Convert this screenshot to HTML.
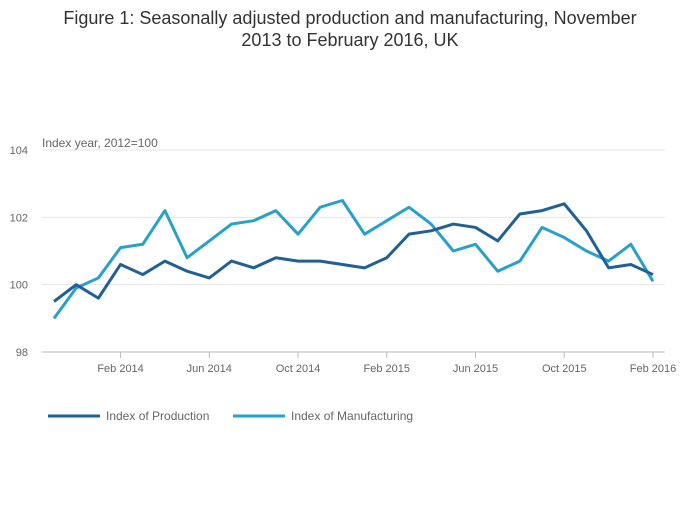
<!DOCTYPE html>
<html><head><meta charset="utf-8"><style>
body{margin:0;background:#fff;font-family:"Liberation Sans",sans-serif;}
</style></head><body>
<svg id="c" width="700" height="502" xmlns="http://www.w3.org/2000/svg">
<text x="350" y="24" text-anchor="middle" font-size="18" fill="#333">Figure 1: Seasonally adjusted production and manufacturing, November</text>
<text x="350" y="46" text-anchor="middle" font-size="18" fill="#333">2013 to February 2016, UK</text>
<text x="42" y="147" font-size="12" fill="#666">Index year, 2012=100</text>
<g id="grid"></g><g id="lines"></g>
<g>
<line x1="48" y1="416" x2="100" y2="416" stroke="#206095" stroke-width="3"/>
<text x="106" y="420" font-size="12" fill="#666">Index of Production</text>
<line x1="233" y1="416" x2="285" y2="416" stroke="#27a0cc" stroke-width="3"/>
<text x="291" y="420" font-size="12" fill="#666">Index of Manufacturing</text>
</g>
</svg>
<script>
const yTicks=[98,100,102,104];
const xTickLabels=["Feb 2014","Jun 2014","Oct 2014","Feb 2015","Jun 2015","Oct 2015","Feb 2016"];
const xTickIndex=[3,7,11,15,19,23,27];
const production=[99.5,100.0,99.6,100.6,100.3,100.7,100.4,100.2,100.7,100.5,100.8,100.7,100.7,100.6,100.5,100.8,101.5,101.6,101.8,101.7,101.3,102.1,102.2,102.4,101.6,100.5,100.6,100.3];
const manufacturing=[99.0,99.9,100.2,101.1,101.2,102.2,100.8,101.3,101.8,101.9,102.2,101.5,102.3,102.5,101.5,101.9,102.3,101.8,101.0,101.2,100.4,100.7,101.7,101.4,101.0,100.7,101.2,100.1];
const NS="http://www.w3.org/2000/svg";
const x=i=>54+i*(653-54)/27;
const y=v=>352-(v-98)*(352-150)/6;
const grid=document.getElementById('grid'),lines=document.getElementById('lines');
yTicks.forEach(t=>{
 const l=document.createElementNS(NS,'line');
 l.setAttribute('x1',42);l.setAttribute('x2',665);l.setAttribute('y1',y(t));l.setAttribute('y2',y(t));
 l.setAttribute('stroke',t===98?'#bbb':'#e6e6e6');
 
 
 grid.appendChild(l);
 const tx=document.createElementNS(NS,'text');
 tx.setAttribute('x',28);tx.setAttribute('y',y(t)+4);tx.setAttribute('font-size','11');tx.setAttribute('fill','#666');tx.setAttribute('text-anchor','end');
 tx.textContent=t;
 
 
 grid.appendChild(tx);
});
xTickIndex.forEach((idx,k)=>{
 const l=document.createElementNS(NS,'line');
 l.setAttribute('x1',x(idx));l.setAttribute('x2',x(idx));l.setAttribute('y1',352);l.setAttribute('y2',358);l.setAttribute('stroke','#bbb');
 
 
 grid.appendChild(l);
 const tx=document.createElementNS(NS,'text');
 tx.setAttribute('x',x(idx));tx.setAttribute('y',372);tx.setAttribute('font-size','11');tx.setAttribute('fill','#666');tx.setAttribute('text-anchor','middle');
 tx.textContent=xTickLabels[k];
 
 
 grid.appendChild(tx);
});
function draw(arr,col,name){
 const p=document.createElementNS(NS,'polyline');
 p.setAttribute('points',arr.map((v,i)=>x(i)+','+y(v)).join(' '));
 p.setAttribute('fill','none');p.setAttribute('stroke',col);p.setAttribute('stroke-width','3');p.setAttribute('stroke-linejoin','round');
 
 
 lines.appendChild(p);
}
draw(manufacturing,'#27a0cc','manufacturing-line');
draw(production,'#206095','production-line');
</script>
</body></html>
